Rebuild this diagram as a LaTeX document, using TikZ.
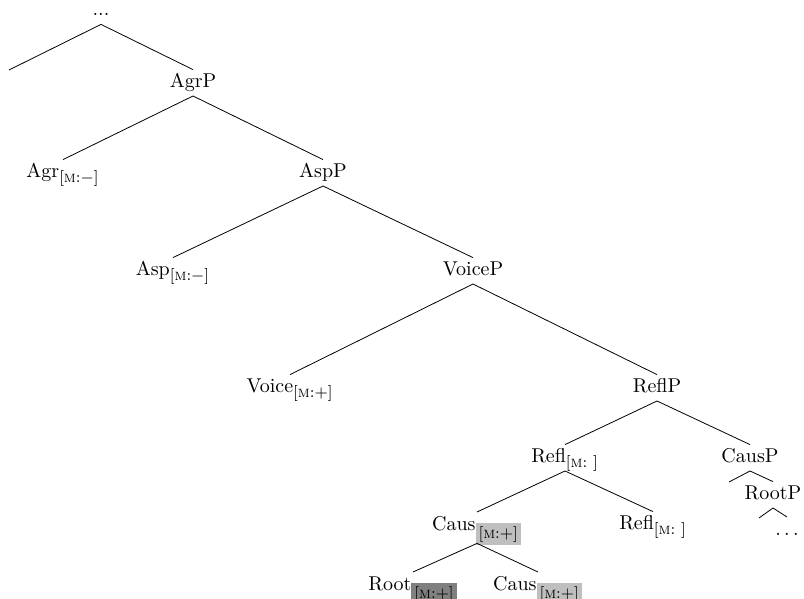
\documentclass[tikz,border=0pt]{standalone}
\usepackage{amsmath}
\usepackage{xcolor}
\usepackage{tikz}

\definecolor{litegrey}{gray}{0.75}
\definecolor{darkgrey}{gray}{0.5}
\newcommand{\mfeat}[1]{\text{\footnotesize[\textsc{m}:#1]}}
\newcommand{\featbox}[2]{{\setlength{\fboxsep}{1.5pt}\colorbox{#1}{$\mfeat{#2}$}}}

\begin{document}
\begin{tikzpicture}[x=0.5pt,y=-0.5pt,
    every node/.style={anchor=base,inner sep=2pt,text height=6.8pt,text depth=2pt},
    marked/.style={text depth=4.5pt}]
  \useasboundingbox (0,0) rectangle (804,599);
  \node (top) at (101,16) {...};
  \coordinate (spec) at (9,70);
  \node (agrp) at (193,87.6) {AgrP};
  \node (agr) at (63,177.6) {Agr$_{\mfeat{$-$}}$};
  \node (aspp) at (323,177.6) {AspP};
  \node (asp) at (173,275.6) {Asp$_{\mfeat{$-$}}$};
  \node (voicep) at (473,275.6) {VoiceP};
  \node (voice) at (290,392.6) {Voice$_{\mfeat{$+$}}$};
  \node (reflp) at (657,392.6) {ReflP};
  \node (refl) at (565,462.6) {Refl$_{\mfeat{\ }}$};
  \node (causp) at (750,462.6) {CausP};
  \node[marked] (caus) at (477,530) {Caus$_{\featbox{litegrey}{$+$}}$};
  \node (refl2) at (653,529.6) {Refl$_{\mfeat{\ }}$};
  \coordinate (causl) at (729,482);
  \node (rootp) at (773,499.6) {RootP};
  \coordinate (rootl) at (759,518);
  \node (dots) at (787,535) {$\ldots$};
  \node (root) at (413,590) {Root$_{\featbox{darkgrey}{$+$}}$};
  \node (caus2) at (538,590) {Caus$_{\featbox{litegrey}{$+$}}$};
  \path
    (top.south) edge (spec)
    (top.south) edge (agrp.north)
    (agrp.south) edge (agr.north)
    (agrp.south) edge (aspp.north)
    (aspp.south) edge (asp.north)
    (aspp.south) edge (voicep.north)
    (voicep.south) edge (voice.north)
    (voicep.south) edge (reflp.north)
    (reflp.south) edge (refl.north)
    (reflp.south) edge (causp.north)
    (refl.south) edge (caus.north)
    (refl.south) edge (refl2.north)
    (caus.south) edge (root.north)
    (caus.south) edge (caus2.north)
    (causp.south) edge (causl)
    (causp.south) edge (rootp.north)
    (rootp.south) edge (rootl)
    (rootp.south) edge (dots.north);
\end{tikzpicture}
\end{document}
